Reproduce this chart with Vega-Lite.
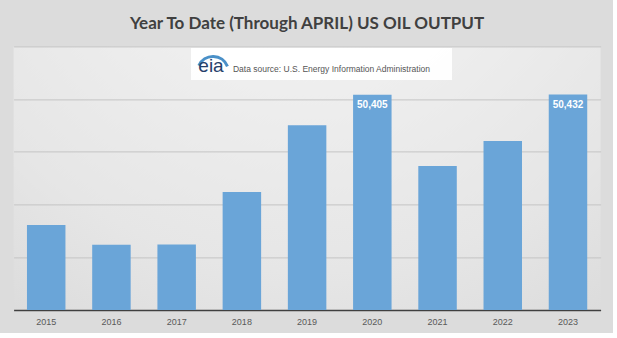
{
  "$schema": "https://vega.github.io/schema/vega-lite/v6.json",
  "width": 587,
  "height": 263.6,
  "autosize": {"type": "none"},
  "padding": {"left": 13.6, "top": 46.4, "right": 12.4, "bottom": 23},
  "background": "#dcdcdc",
  "view": {
    "stroke": null,
    "fill": {
      "gradient": "radial",
      "x1": 0.5, "y1": 0.0, "r1": 0,
      "x2": 0.5, "y2": 0.0, "r2": 1.1,
      "stops": [
        {"offset": 0, "color": "#f7f7f7"},
        {"offset": 0.6, "color": "#e6e6e6"},
        {"offset": 1, "color": "#d2d2d2"}
      ]
    }
  },
  "title": {
    "text": "Year To Date (Through APRIL) US OIL OUTPUT",
    "font": "Lato",
    "fontSize": 17,
    "fontWeight": "bold",
    "color": "#404040",
    "anchor": "middle",
    "baseline": "alphabetic",
    "offset": 0
  },
  "resolve": {"scale": {"x": "independent"}, "axis": {"x": "independent"}},
  "layer": [
    {
      "data": {
        "values": [
          {"year": "2015", "value": 38065},
          {"year": "2016", "value": 36195},
          {"year": "2017", "value": 36210},
          {"year": "2018", "value": 41195},
          {"year": "2019", "value": 47524},
          {"year": "2020", "value": 50405},
          {"year": "2021", "value": 43662},
          {"year": "2022", "value": 46034},
          {"year": "2023", "value": 50432}
        ]
      },
      "encoding": {
        "x": {
          "field": "year",
          "type": "nominal",
          "sort": null,
          "scale": {"paddingInner": 0.41, "paddingOuter": 0.205},
          "axis": {
            "title": null,
            "labelAngle": 0,
            "ticks": false,
            "domainColor": "#404040",
            "domainWidth": 1.5,
            "labelFont": "Liberation Sans",
            "labelFontSize": 9,
            "labelColor": "#595959",
            "labelPadding": 7,
            "grid": false
          }
        },
        "y": {
          "field": "value",
          "type": "quantitative",
          "scale": {"domain": [30000, 55000], "zero": false, "nice": false},
          "axis": {
            "title": null,
            "labels": false,
            "ticks": false,
            "domain": false,
            "values": [35000, 40000, 45000, 50000, 55000],
            "gridColor": "#c4c4c4",
            "gridWidth": 1
          }
        }
      },
      "layer": [
        {
          "mark": {"type": "bar", "color": "#6aa5d8"},
          "encoding": {"y2": {"datum": 30000}}
        },
        {
          "transform": [{"filter": "datum.year == '2020' || datum.year == '2023'"}],
          "mark": {"type": "text", "color": "white", "fontWeight": "bold", "font": "Liberation Sans", "fontSize": 10, "baseline": "top", "dy": 5},
          "encoding": {"text": {"field": "value", "type": "quantitative", "format": ","}}
        }
      ]
    },
    {
      "data": {"values": [{"pos": "box"}]},
      "mark": {"type": "rect", "color": "white", "opacity": 0.95},
      "encoding": {
        "x": {"datum": 0.3022, "type": "quantitative", "scale": {"domain": [0, 1], "nice": false, "zero": false}, "axis": null},
        "x2": {"datum": 0.7469},
        "y": {"datum": 54848, "type": "quantitative"},
        "y2": {"datum": 51813}
      }
    },
    {
      "data": {"values": [{"pos": "arc"}]},
      "mark": {"type": "arc", "color": "#4a90c8", "radius": 17, "radius2": 14, "theta": -1.15, "theta2": 1.2},
      "encoding": {
        "x": {"datum": 0.3397, "type": "quantitative", "scale": {"domain": [0, 1], "nice": false, "zero": false}, "axis": null},
        "y": {"datum": 52572, "type": "quantitative"}
      }
    },
    {
      "data": {"values": [{"t": "eia"}]},
      "mark": {"type": "text", "font": "Liberation Sans", "fontSize": 19, "color": "#25406a", "baseline": "alphabetic", "align": "center"},
      "encoding": {
        "x": {"datum": 0.3363, "type": "quantitative", "scale": {"domain": [0, 1], "nice": false, "zero": false}, "axis": null},
        "y": {"datum": 52600, "type": "quantitative"},
        "text": {"field": "t"}
      }
    },
    {
      "data": {"values": [{"t": "Data source: U.S. Energy Information Administration"}]},
      "mark": {"type": "text", "font": "Liberation Sans", "fontSize": 8.5, "color": "#555555", "baseline": "middle", "align": "left"},
      "encoding": {
        "x": {"datum": 0.3737, "type": "quantitative", "scale": {"domain": [0, 1], "nice": false, "zero": false}, "axis": null},
        "y": {"datum": 52857, "type": "quantitative"},
        "text": {"field": "t"}
      }
    }
  ]
}
